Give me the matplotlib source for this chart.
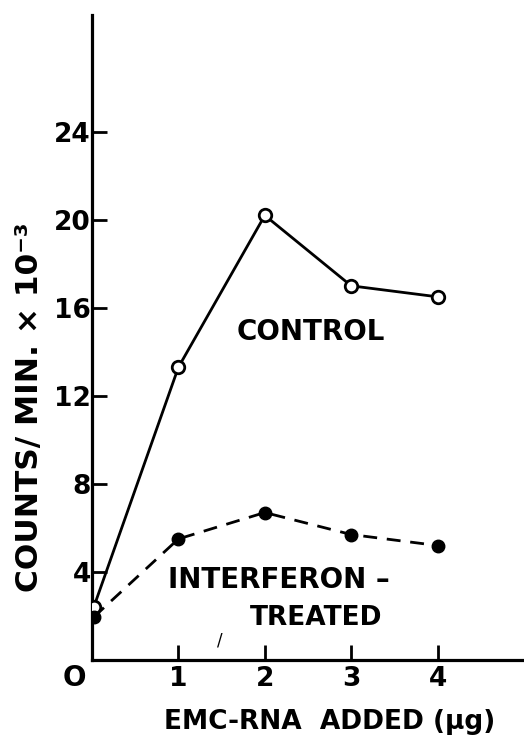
import matplotlib
matplotlib.use("Agg")
import matplotlib.pyplot as plt

# data
rna_added = [0.02, 1, 2, 3, 4]
control = [2.4, 13.3, 20.2, 17.0, 16.5]
interferon = [1.95, 5.5, 6.7, 5.7, 5.2]

x_ticks = [1, 2, 3, 4]
y_ticks = [4, 8, 12, 16, 20, 24]

plt.rcParams['font.family'] = ['DejaVu Sans']
plt.rcParams['font.weight'] = 'bold'
plt.rcParams['axes.labelweight'] = 'bold'

fig = plt.figure(figsize=(5.24, 7.37), dpi=100)
ax = fig.add_axes([0.1756, 0.1045, 0.8244, 0.875])

ax.plot(rna_added, control, color='black', lw=2.0, marker='o', ms=9,
        mfc='white', mec='black', mew=2.0, zorder=3)
ax.plot(rna_added, interferon, color='black', lw=2.0, ls=(0, (5, 3.5)),
        marker='o', ms=9, mfc='black', mec='black', zorder=3)

ax.set_xlim(0, 5.0)
ax.set_ylim(0, 29.3)

for s in ['top', 'right']:
    ax.spines[s].set_visible(False)
for s in ['left', 'bottom']:
    ax.spines[s].set_linewidth(2.3)

ax.set_xticks(x_ticks)
ax.set_xticklabels([str(v) for v in x_ticks])
ax.set_yticks(y_ticks)
ax.set_yticklabels([str(v) for v in y_ticks])
ax.tick_params(axis='both', direction='in', length=11, width=2.0,
               labelsize=19)
ax.tick_params(axis='y', pad=1)
ax.tick_params(axis='x', pad=4)

ax.text(-0.2, -0.8, 'O', ha='center', va='center', fontsize=20)

ax.text(2.53, 14.9, 'CONTROL', ha='center', va='center', fontsize=20)
ax.text(2.16, 3.64, 'INTERFERON \u2013', ha='center', va='center', fontsize=20)
ax.text(2.59, 1.9, 'TREATED', ha='center', va='center', fontsize=19)
ax.text(1.48, 0.9, '/', ha='center', va='center', fontsize=12,
        fontweight='normal')

ax.set_ylabel('COUNTS/ MIN. \u00d7 10\u207b\u00b3', fontsize=22.5, va='center')
ax.yaxis.set_label_coords(-0.145, 0.392)
ax.set_xlabel('EMC-RNA  ADDED (\u03bcg)', fontsize=19, va='center')
ax.xaxis.set_label_coords(0.55, -0.096)

fig.savefig('out.png', dpi=100)
